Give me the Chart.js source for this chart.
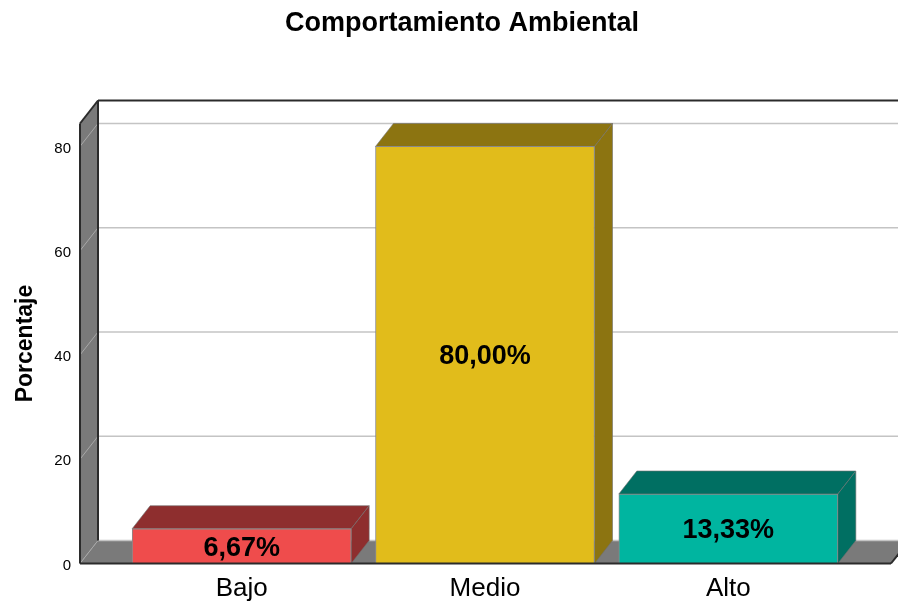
<!DOCTYPE html>
<html>
<head>
<meta charset="utf-8">
<title>Comportamiento Ambiental</title>
<script src="https://cdn.jsdelivr.net/npm/chart.js@4"></script>
<style>
  html, body { margin: 0; padding: 0; background: #fff; overflow: hidden; }
  canvas { display: block; }
</style>
</head>
<body>
<canvas id="chart" width="898" height="603"></canvas>
<script>
const chartTitle = 'Comportamiento Ambiental';
const categories = ['Bajo', 'Medio', 'Alto'];
const percentages = [6.67, 80.00, 13.33];
const yTicks = [0, 20, 40, 60, 80];
const frontColors = ['#EF4C4C', '#E1BC1B', '#00B5A0'];
const shadeColors = ['#8E2E2E', '#8C7411', '#006F62'];

// depth of the fake 3d box
const depthX = 18;
const depthY = -23;
const wallLeft = 80;
const wallRight = 891;
const wallColor = '#7A7A7A';
const lineColor = '#2B2B2B';
const fontName = '"Liberation Sans", Arial, sans-serif';

function poly(ctx, pts, fill, stroke, width) {
    ctx.beginPath();
    ctx.moveTo(pts[0][0], pts[0][1]);
    for (let i = 1; i < pts.length; i++) ctx.lineTo(pts[i][0], pts[i][1]);
    ctx.closePath();
    if (fill) { ctx.fillStyle = fill; ctx.fill(); }
    if (stroke) { ctx.strokeStyle = stroke; ctx.lineWidth = width || 1; ctx.stroke(); }
}

function seg(ctx, x1, y1, x2, y2, color, width) {
    ctx.beginPath();
    ctx.moveTo(x1, y1);
    ctx.lineTo(x2, y2);
    ctx.strokeStyle = color;
    ctx.lineWidth = width;
    ctx.stroke();
}

const box3d = {
    id: 'box3d',
    beforeDatasetsDraw(chart) {
        const ctx = chart.ctx;
        const y = chart.scales.y;
        const top = y.getPixelForValue(y.max);
        const base = y.getPixelForValue(0);
        ctx.save();

        // left wall and floor
        poly(ctx, [[wallLeft, top], [wallLeft + depthX, top + depthY], [wallLeft + depthX, base + depthY], [wallLeft, base]], wallColor);
        poly(ctx, [[wallLeft, base], [wallLeft + depthX, base + depthY], [wallRight + depthX, base + depthY], [wallRight, base]], wallColor);

        // gridlines run across the back wall and down the left wall
        yTicks.forEach(v => {
            const py = y.getPixelForValue(v);
            seg(ctx, wallLeft + depthX, py + depthY, wallRight + depthX, py + depthY, '#C4C4C4', 1.5);
            seg(ctx, wallLeft, py, wallLeft + depthX, py + depthY, '#A8A8A8', 1);
        });

        // wall edges
        seg(ctx, wallLeft + depthX, top + depthY, wallRight + depthX, top + depthY, lineColor, 2);
        seg(ctx, wallLeft + depthX, top + depthY, wallLeft + depthX, base + depthY, lineColor, 2);
        seg(ctx, wallLeft, top, wallLeft, base, lineColor, 2);
        seg(ctx, wallLeft, top, wallLeft + depthX, top + depthY, lineColor, 2);

        // top and side faces of each bar
        chart.getDatasetMeta(0).data.forEach((bar, i) => {
            const left = bar.x - bar.width / 2;
            const right = bar.x + bar.width / 2;
            poly(ctx, [[left, bar.y], [left + depthX, bar.y + depthY], [right + depthX, bar.y + depthY], [right, bar.y]], shadeColors[i], '#6E6E6E', 0.6);
            poly(ctx, [[right, bar.y], [right + depthX, bar.y + depthY], [right + depthX, bar.base + depthY], [right, bar.base]], shadeColors[i], '#6E6E6E', 0.6);
        });
        ctx.restore();
    },
    afterDatasetsDraw(chart) {
        const ctx = chart.ctx;
        const base = chart.scales.y.getPixelForValue(0);
        ctx.save();
        seg(ctx, wallLeft, base, wallRight, base, lineColor, 2);
        seg(ctx, wallRight, base, wallRight + depthX, base + depthY, lineColor, 2);

        ctx.fillStyle = '#000';
        ctx.textAlign = 'center';
        ctx.textBaseline = 'middle';

        // title sits over the whole box, not over the canvas centre
        ctx.font = 'bold 27px ' + fontName;
        ctx.fillText(chartTitle, 462, 24);

        // value labels in the middle of the bars
        chart.getDatasetMeta(0).data.forEach((bar, i) => {
            const txt = percentages[i].toFixed(2).replace('.', ',') + '%';
            ctx.fillText(txt, bar.x, (bar.y + bar.base) / 2 + 2);
        });
        ctx.restore();
    }
};

new Chart(document.getElementById('chart'), {
    type: 'bar',
    plugins: [box3d],
    data: {
        labels: categories,
        datasets: [{
            data: percentages,
            backgroundColor: frontColors,
            borderColor: '#8A8A8A',
            borderWidth: 1,
            barThickness: 219
        }]
    },
    options: {
        responsive: false,
        animation: false,
        layout: { padding: { left: 0, right: 48, top: 123.5, bottom: 0 } },
        plugins: {
            legend: { display: false },
            tooltip: { enabled: false },
            title: { display: false }
        },
        scales: {
            x: {
                grid: { display: false, drawTicks: false },
                border: { display: false },
                ticks: {
                    color: '#000',
                    padding: 10,
                    font: { family: fontName, size: 26 }
                },
                afterFit(scale) { scale.height = 39.5; }
            },
            y: {
                min: 0,
                max: 84.4,
                grid: { display: false, drawTicks: false },
                border: { display: false },
                title: {
                    display: true,
                    text: 'Porcentaje',
                    color: '#000',
                    padding: { top: 12, bottom: 0 },
                    font: { family: fontName, size: 23, weight: 'bold' }
                },
                ticks: {
                    color: '#000',
                    padding: 49,
                    labelOffset: 2,
                    font: { family: fontName, size: 15 }
                },
                afterBuildTicks(scale) { scale.ticks = yTicks.map(v => ({ value: v })); },
                // the big tick padding would otherwise be reserved above and below the axis too
                afterFit(scale) {
                    scale.width = 120;
                    scale.paddingTop = 0;
                    scale.paddingBottom = 0;
                }
            }
        }
    }
});
</script>
</body>
</html>
